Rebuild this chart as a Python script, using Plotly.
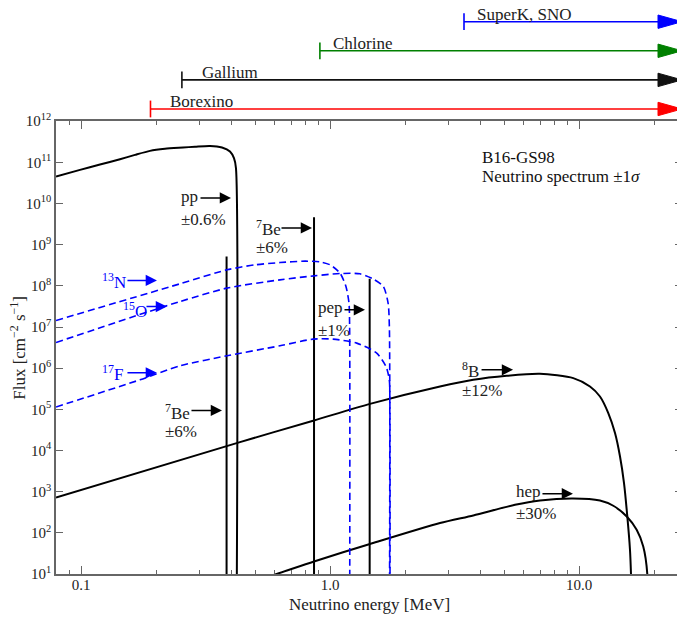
import numpy as np
import plotly.graph_objects as go

# ---------------- data (E in MeV, flux in cm^-2 s^-1 [MeV^-1]) ----------------
pp_E = [0.0793, 0.0990, 0.1191, 0.1433, 0.1646, 0.1891, 0.2173, 0.2566, 0.2867, 0.3294, 0.3681,
        0.3963, 0.4112, 0.4188, 0.4215]
pp_F = [4.52e10, 6.57e10, 8.83e10, 1.19e11, 1.52e11, 1.90e11, 2.13e11, 2.29e11, 2.40e11, 2.51e11,
        2.29e11, 1.83e11, 1.26e11, 7.22e10, 1.0]

line_E = [0.384, 0.862, 1.442]          # 7Be (two lines) and pep
line_F = [5.15e8, 4.66e9, 1.48e8]

n13_E = [0.0793, 0.2495, 0.3855, 0.4993, 0.6291, 0.7929, 0.9108, 1.000, 1.096, 1.158, 1.191, 1.198, 1.199]
n13_F = [1.44e7, 1.12e8, 2.45e8, 3.24e8, 3.68e8, 3.98e8, 3.83e8, 3.24e8, 2.04e8, 9.63e7, 3.80e7, 1.03e7, 1.0]

o15_E = [0.0793, 0.2495, 0.3855, 0.6291, 0.8617, 1.096, 1.318, 1.491, 1.636, 1.710, 1.730, 1.732]
o15_F = [4.21e6, 4.16e7, 8.81e7, 1.40e8, 1.75e8, 1.99e8, 1.96e8, 1.46e8, 9.64e7, 3.80e7, 1.03e7, 1.0]

f17_E = [0.0793, 0.1724, 0.2495, 0.3855, 0.6291, 0.854, 1.027, 1.279, 1.539, 1.677, 1.729, 1.738, 1.740]
f17_F = [1.14e5, 5.22e5, 1.14e6, 2.00e6, 3.50e6, 5.08e6, 5.08e6, 4.06e6, 2.32e6, 1.10e6, 5.22e5, 1.5e5, 1.0]

b8_E = [0.0793, 0.4346, 0.8617, 1.446, 2.763, 3.760, 5.12, 6.966, 9.477, 11.06, 12.13, 13.10,
        13.94, 14.60, 15.15, 15.62, 16.01, 16.16, 16.3]
b8_F = [724, 1.60e4, 5.37e4, 1.36e5, 3.59e5, 5.22e5, 6.53e5, 7.31e5, 5.74e5, 3.59e5, 2.05e5, 8.11e4,
        2.65e4, 7.16e3, 1.62e3, 250, 38.9, 10, 1]

hep_E = [0.477, 0.6103, 0.8617, 1.446, 2.763, 3.760, 5.53, 6.966, 9.45, 12.13, 13.72, 15.54, 17.03,
         18.10, 18.79, 18.8]
hep_F = [6.2, 10, 20.2, 53.5, 173, 265, 481, 612, 684, 612, 455, 250, 119, 46.8, 10, 1]

# detector thresholds (top panel)
det_names = ["SuperK, SNO", "Chlorine", "Gallium", "Borexino"]
det_thr = [3.45, 0.91, 0.254, 0.190]
det_row = [4, 3, 2, 1]
det_colors = ["#0000ff", "#008000", "#111111", "#ff0000"]

# axis limits / ticks
E_MIN, E_MAX = 0.0793, 25.9
x_ticks = [0.1, 1.0, 10.0]
x_ticktext = ["0.1", "1.0", "10.0"]
y_exps = list(range(1, 13))

# labels: (text, E, F, color) left-anchored, and arrows: (tipE, tipF, tail_px, color)
labels = [
    ("pp", 0.2495, 1.45e10, "#222"), ("±0.6%", 0.2495, 4.01e9, "#222"),
    ("<sup>7</sup>Be", 0.4993, 2.56e9, "#222"), ("±6%", 0.4993, 8.38e8, "#222"),
    ("<sup>7</sup>Be", 0.2153, 8.73e4, "#222"), ("±6%", 0.2153, 2.85e4, "#222"),
    ("pep", 0.886, 2.93e7, "#222"), ("±1%", 0.886, 8.09e6, "#222"),
    ("<sup>8</sup>B", 3.356, 9.14e5, "#222"), ("±12%", 3.356, 2.82e5, "#222"),
    ("hep", 5.53, 995, "#222"), ("±30%", 5.53, 291, "#222"),
    ("<sup>13</sup>N", 0.1202, 1.32e8, "#0000ff"),
    ("<sup>15</sup>O", 0.146, 2.62e7, "#0000ff"),
    ("<sup>17</sup>F", 0.1202, 7.73e5, "#0000ff"),
    ("B16-GS98", 4.036, 1.28e11, "#111"),
    ("Neutrino spectrum ±1<i>σ</i>", 4.036, 4.44e10, "#111"),
]
arrows = [
    (0.400, 1.37e10, 32, "black"), (0.846, 2.56e9, 32, "black"), (0.368, 9.38e4, 32, "black"),
    (1.381, 2.62e7, 22, "black"), (5.43, 9.14e5, 33, "black"), (9.45, 891, 32, "black"),
    (0.2017, 1.35e8, 31, "#0000ff"), (0.2213, 3.15e7, 22, "#0000ff"), (0.2017, 7.73e5, 31, "#0000ff"),
]

FONT = "Liberation Serif"
AX = "#666666"

fig = go.Figure()

def curve(E, F, color="black", dash=None, width=2, shape="spline"):
    fig.add_trace(go.Scatter(x=E, y=F, mode="lines", xaxis="x", yaxis="y",
                             line=dict(color=color, width=width, dash=dash, shape=shape,
                                       smoothing=0.7),
                             showlegend=False, hoverinfo="skip"))

curve(pp_E, pp_F)
for e, f in zip(line_E, line_F):
    curve([e, e], [1.0, f], shape="linear")
curve(b8_E, b8_F)
curve(hep_E, hep_F)
for E, F in [(n13_E, n13_F), (o15_E, o15_F), (f17_E, f17_F)]:
    curve(E, F, color="#0000ff", dash="7px,4px", width=1.6)

# threshold arrows in top panel
head_len = 10 ** (24 / 249)  # arrow head length as ratio in energy (approx 24 px)
for name, thr, row, col in zip(det_names, det_thr, det_row, det_colors):
    fig.add_trace(go.Scatter(x=[thr, E_MAX / head_len], y=[row, row], mode="lines",
                             xaxis="x", yaxis="y2", line=dict(color=col, width=1.6),
                             showlegend=False, hoverinfo="skip"))
    fig.add_trace(go.Scatter(x=[thr], y=[row], mode="markers", xaxis="x", yaxis="y2",
                             marker=dict(symbol="line-ns", size=12, line=dict(color=col, width=1.6)),
                             showlegend=False, hoverinfo="skip"))
    fig.add_trace(go.Scatter(x=[E_MAX / head_len, E_MAX, E_MAX / head_len, E_MAX / head_len],
                             y=[row - 0.23, row, row + 0.23, row - 0.23], mode="lines",
                             fill="toself", fillcolor=col, line=dict(color=col, width=1),
                             xaxis="x", yaxis="y2", showlegend=False, hoverinfo="skip"))

ann = []
for name, thr, row, xs in zip(det_names, det_thr, det_row, [12, 12, 19, 19]):
    ann.append(dict(text=name, x=np.log10(thr), y=row, xref="x", yref="y2",
                    xanchor="left", yanchor="bottom", xshift=xs, yshift=-3,
                    showarrow=False, borderpad=0,
                    font=dict(family=FONT, size=17, color="#222")))

for text, e, f, col in labels:
    ann.append(dict(text=text, x=np.log10(e), y=np.log10(f), xref="x", yref="y",
                    xanchor="left", yanchor="middle", showarrow=False, borderpad=0,
                    font=dict(family=FONT, size=17, color=col)))

for e, f, tail, col in arrows:
    ann.append(dict(text="", x=np.log10(e), y=np.log10(f), xref="x", yref="y",
                    ax=-tail, ay=0, showarrow=True, arrowhead=2, arrowsize=1.5,
                    arrowwidth=1.5, arrowcolor=col))

ann.append(dict(text="Flux [cm<sup>−2</sup> s<sup>−1</sup>]", textangle=-90,
                x=-0.062, xref="paper", y=0.5, yref="y domain",
                xanchor="center", yanchor="middle", showarrow=False,
                font=dict(family=FONT, size=17, color="#222")))
ann.append(dict(text="Neutrino energy [MeV]", x=0.5, xref="x domain", y=-0.054, yref="paper",
                xanchor="center", yanchor="middle", showarrow=False,
                font=dict(family=FONT, size=17, color="#222")))

minor_vals = [m * 10.0 ** k for k in (-2, -1, 0, 1) for m in range(2, 10)]

fig.update_layout(
    width=677, height=610,
    margin=dict(l=48, r=3, t=0, b=44, autoexpand=False),
    paper_bgcolor="white", plot_bgcolor="white",
    font=dict(family=FONT, size=15, color="#222"),
    showlegend=False,
    xaxis=dict(type="log", range=[np.log10(E_MIN), np.log10(E_MAX)], automargin=False,
               tickvals=x_ticks, ticktext=x_ticktext, ticks="inside", ticklen=8,
               tickwidth=1, tickcolor=AX, showline=True, linecolor=AX, linewidth=1.5,
               mirror="ticks", showgrid=False, zeroline=False, anchor="y",
               ticklabelstandoff=-4,
               tickfont=dict(family=FONT, size=15, color="#222"),
               minor=dict(tickvals=minor_vals, ticks="inside", ticklen=4, tickcolor=AX,
                          showgrid=False)),
    yaxis=dict(type="log", range=[1, 12], domain=[0, 0.8], automargin=False,
               tickvals=[10.0 ** k for k in y_exps],
               ticktext=[f"10<sup>{k}</sup>" for k in y_exps],
               ticks="inside", ticklen=7, tickwidth=1, tickcolor=AX,
               showline=True, linecolor=AX, linewidth=1.5, mirror="ticks",
               showgrid=False, zeroline=False,
               tickfont=dict(family=FONT, size=15, color="#222")),
    yaxis2=dict(domain=[0.802, 1.0], range=[0.619, 4.471], visible=False, anchor="x",
                automargin=False),
    annotations=ann,
)

fig.write_html("out.html")
